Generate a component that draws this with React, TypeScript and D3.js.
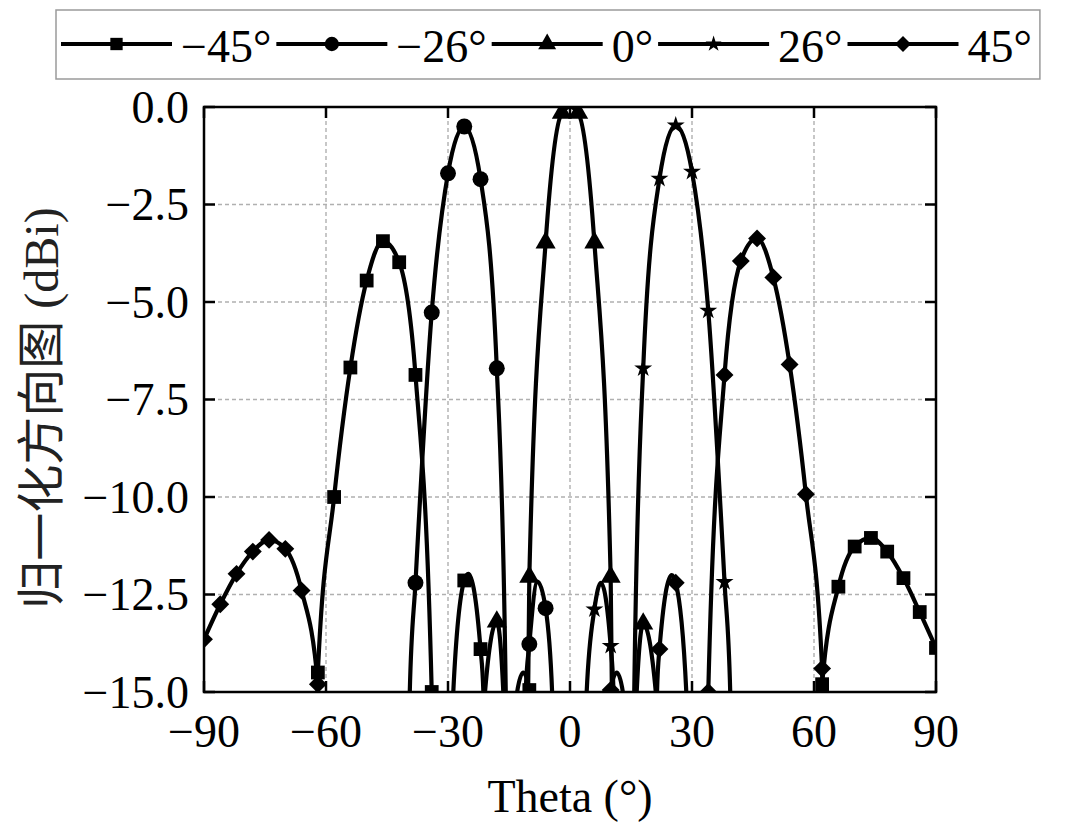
import { useEffect, useRef } from 'react';
import * as d3 from 'd3';

type Pt = [number, number | null];

// theta (deg), normalized gain (dB); null breaks the line where it dips below the axis
const scanM45: Pt[] = [
    [-62.6, -20], [-62, -14.5], [-58, -10.0], [-54, -6.68], [-50, -4.45], [-46, -3.44],
    [-42, -3.98], [-38, -6.87], [-34, -15.0], [-33.7, -20], [-32, null],
    [-29.1, -20], [-28.7, -15], [-26, -12.14], [-25, -11.97], [-22, -13.9], [-21.3, -15], [-21.0, -20], [-18, null],
    [-13.4, -20], [-13.0, -15], [-11.5, -14.5], [-10, -14.95], [-9.7, -20], [0, null],
    [61.6, -20], [62, -14.8], [66, -12.3], [70, -11.27], [74, -11.05], [78, -11.4],
    [82, -12.08], [86, -12.95], [90, -13.87],
];

const scanM26: Pt[] = [
    [-39.8, -20], [-39.4, -15], [-38, -12.2], [-34, -5.27], [-30, -1.7], [-26, -0.5],
    [-22, -1.85], [-18, -6.7], [-15.8, -15], [-15.5, -20], [-14, null],
    [-11.3, -20], [-10.9, -15], [-10, -13.77], [-8, -12.17], [-6, -12.85], [-4.4, -15], [-4.1, -20],
];

const scan0: Pt[] = [
    [-21.3, -20], [-20.9, -15], [-18, -13.2], [-16.4, -15], [-16.0, -20], [-14, null],
    [-10.6, -20], [-10.3, -15], [-10, -12.05], [-6, -3.48], [-2, -0.15], [0, 0],
    [2, -0.15], [6, -3.48], [10, -12.05], [10.3, -15], [10.6, -20], [14, null],
    [16.0, -20], [16.4, -15], [18, -13.25], [21.1, -15], [21.5, -20],
];

const scan26: Pt[] = [
    [3.8, -20], [4.1, -15], [6, -12.88], [7.6, -12.2], [10, -13.82], [10.7, -15], [11.0, -20], [14, null],
    [15.5, -20], [15.8, -15], [18, -6.7], [22, -1.84], [26, -0.47], [30, -1.66],
    [34, -5.22], [38, -12.18], [39.4, -15], [39.8, -20],
];

const scan45: Pt[] = [
    [-90, -13.65], [-86, -12.75], [-82, -11.97], [-78, -11.4], [-74, -11.1], [-70, -11.33],
    [-66, -12.4], [-62, -14.8], [-61.6, -20], [0, null],
    [9.7, -20], [10, -14.95], [11.5, -14.5], [13.0, -15], [13.4, -20], [16, null],
    [21.1, -20], [21.4, -15], [22, -13.9], [25, -12.0], [26, -12.2], [28.6, -15], [29.0, -20], [31, null],
    [33.7, -20], [34, -15.0], [38, -6.87], [42, -3.95], [46, -3.37], [50, -4.37],
    [54, -6.6], [58, -9.93], [62, -14.4], [62.6, -20],
];

const legendLabels = ['−45°', '−26°', '0°', '26°', '45°'];
const thetaTicks = [-90, -60, -30, 0, 30, 60, 90];
const dbTicks = [0, -2.5, -5, -7.5, -10, -12.5, -15];
const MARK_STEP = 4; // a marker on every 4th degree starting at -90

const SERIF = '"Liberation Serif", "Times New Roman", serif';

const series = [
    { data: scanM45, symbol: d3.symbolSquare, size: 190, rotate: 0 },
    { data: scanM26, symbol: d3.symbolCircle, size: 200, rotate: 0 },
    { data: scan0, symbol: d3.symbolTriangle, size: 175, rotate: 0 },
    { data: scan26, symbol: d3.symbolStar, size: 100, rotate: 0 },
    { data: scan45, symbol: d3.symbolSquare, size: 160, rotate: 45 },
];

export default function App() {
    const ref = useRef<SVGSVGElement>(null);

    useEffect(() => {
        if (!ref.current) return;
        const svg = d3.select(ref.current);
        svg.selectAll('*').remove();

        const W = 1080, H = 830;
        const margin = { top: 107, right: 144, bottom: 138, left: 204 };
        const width = W - margin.left - margin.right;
        const height = H - margin.top - margin.bottom;

        svg.attr('width', W).attr('height', H);

        const x = d3.scaleLinear().domain([-90, 90]).range([0, width]);
        const y = d3.scaleLinear().domain([-15, 0]).range([height, 0]);

        svg.append('defs').append('clipPath').attr('id', 'plot-clip')
            .append('rect').attr('width', width).attr('height', height);

        const g = svg.append('g').attr('transform', `translate(${margin.left},${margin.top})`);

        // Grid lines
        g.append('g').selectAll('line')
            .data(thetaTicks.slice(1, -1)).enter().append('line')
            .attr('x1', d => x(d)).attr('x2', d => x(d))
            .attr('y1', 0).attr('y2', height)
            .attr('stroke', '#b0b0b0').attr('stroke-width', 1.4).attr('stroke-dasharray', '4,3');
        g.append('g').selectAll('line')
            .data(dbTicks.slice(1, -1)).enter().append('line')
            .attr('x1', 0).attr('x2', width)
            .attr('y1', d => y(d)).attr('y2', d => y(d))
            .attr('stroke', '#b0b0b0').attr('stroke-width', 1.4).attr('stroke-dasharray', '4,3');

        // Curves
        const line = d3.line<Pt>()
            .defined(d => d[1] !== null)
            .x(d => x(d[0]))
            .y(d => y(d[1] as number))
            .curve(d3.curveMonotoneX);

        const plot = g.append('g').attr('clip-path', 'url(#plot-clip)');
        series.forEach(s => {
            plot.append('path')
                .datum(s.data)
                .attr('fill', 'none')
                .attr('stroke', '#000')
                .attr('stroke-width', 4.2)
                .attr('stroke-linejoin', 'round')
                .attr('d', line);
        });

        // Markers
        series.forEach(s => {
            const marks = s.data.filter(d => d[1] !== null && Number.isInteger(d[0]) && (d[0] + 90) % MARK_STEP === 0);
            plot.selectAll(null)
                .data(marks).enter().append('path')
                .attr('d', d3.symbol(s.symbol, s.size)())
                .attr('transform', d => `translate(${x(d[0])},${y(d[1] as number)}) rotate(${s.rotate})`)
                .attr('fill', '#000');
        });

        // Frame and inward ticks
        g.append('rect')
            .attr('width', width).attr('height', height)
            .attr('fill', 'none').attr('stroke', '#000').attr('stroke-width', 2.5);

        const tickLen = 11;
        const ticks = g.append('g').attr('stroke', '#000').attr('stroke-width', 2.5);
        thetaTicks.forEach(t => {
            ticks.append('line').attr('x1', x(t)).attr('x2', x(t)).attr('y1', height).attr('y2', height - tickLen);
            ticks.append('line').attr('x1', x(t)).attr('x2', x(t)).attr('y1', 0).attr('y2', tickLen);
        });
        dbTicks.forEach(v => {
            ticks.append('line').attr('x1', 0).attr('x2', tickLen).attr('y1', y(v)).attr('y2', y(v));
            ticks.append('line').attr('x1', width).attr('x2', width - tickLen).attr('y1', y(v)).attr('y2', y(v));
        });

        // Tick labels
        g.append('g').selectAll('text')
            .data(thetaTicks).enter().append('text')
            .attr('x', d => x(d)).attr('y', height + 55)
            .attr('text-anchor', 'middle')
            .attr('font-family', SERIF).attr('font-size', 46)
            .text(d => (d < 0 ? `−${Math.abs(d)}` : `${d}`));

        g.append('g').selectAll('text')
            .data(dbTicks).enter().append('text')
            .attr('x', -15).attr('y', d => y(d)).attr('dy', 15.5)
            .attr('text-anchor', 'end')
            .attr('font-family', SERIF).attr('font-size', 46)
            .text(d => (d === 0 ? '0.0' : `−${Math.abs(d).toFixed(1)}`));

        // Axis titles
        svg.append('text')
            .attr('x', margin.left + width / 2).attr('y', 812)
            .attr('text-anchor', 'middle')
            .attr('font-family', SERIF).attr('font-size', 46)
            .text('Theta (°)');

        svg.append('text')
            .attr('transform', 'translate(41,408) rotate(-90)')
            .attr('text-anchor', 'middle').attr('dominant-baseline', 'central')
            .attr('font-family', `${SERIF}, "Noto Sans CJK SC"`).attr('font-size', 48)
            .attr('fill', '#222')
            .text('归一化方向图 (dBi)');

        // Legend
        const legend = svg.append('g');
        const box = legend.append('rect')
            .attr('x', 56).attr('y', 10).attr('height', 69)
            .attr('fill', '#fff').attr('stroke', '#9a9a9a').attr('stroke-width', 1.5);

        let lx = 61;
        const lineLen = 111;
        series.forEach((s, i) => {
            legend.append('line')
                .attr('x1', lx).attr('x2', lx + lineLen).attr('y1', 44).attr('y2', 44)
                .attr('stroke', '#000').attr('stroke-width', 4.2);
            legend.append('path')
                .attr('d', d3.symbol(s.symbol, s.size * 0.8)())
                .attr('transform', `translate(${lx + lineLen / 2},44) rotate(${s.rotate})`)
                .attr('fill', '#000');
            const txt = legend.append('text')
                .attr('x', lx + lineLen + 9).attr('y', 62)
                .attr('font-family', SERIF).attr('font-size', 46)
                .text(legendLabels[i]);
            const tw = (txt.node() as SVGTextElement).getComputedTextLength();
            lx = lx + lineLen + 9 + tw + 5;
        });
        box.attr('width', lx + 3 - 56);
    }, []);

    return (
        <div style={{ position: 'absolute', left: 0, top: 0, background: '#fff' }}>
            <svg ref={ref} style={{ display: 'block' }} />
        </div>
    );
}
